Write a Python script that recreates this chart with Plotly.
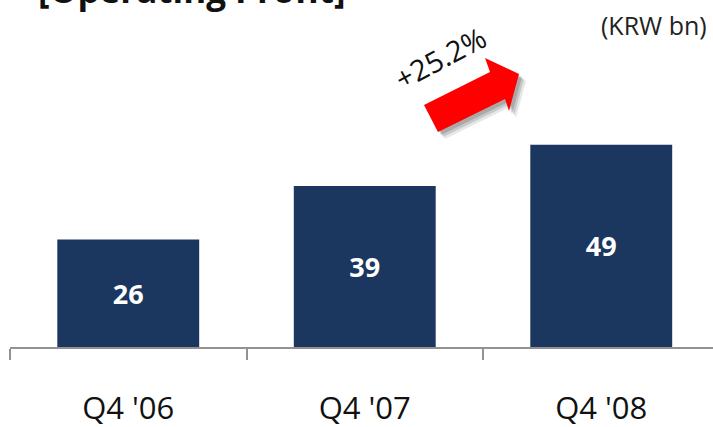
import plotly.graph_objects as go

categories = ["Q4 '06", "Q4 '07", "Q4 '08"]
values = [26, 39, 49]
value_labels = ["26", "39", "49"]
growth_label = "+25.2%"
title_text = "[Operating Profit]"
unit_text = "(KRW bn)"

W, H = 713, 427
ML, MR, MT, MB = 10, 0, 0, 80
PW, PH = W - ML - MR, H - MT - MB

def px(x):
    return (x - ML) / PW

def py(y):
    return 1 - (y - MT) / PH

def path(pts, dx=0, dy=0):
    s = "M " + " L ".join(f"{px(x+dx):.5f},{py(y+dy):.5f}" for x, y in pts) + " Z"
    return s

xs = list(range(len(categories)))

fig = go.Figure()
fig.add_trace(go.Bar(
    x=xs, y=values, width=0.6,
    marker=dict(color="#1b375f", line=dict(width=0)),
    text=value_labels, textposition="inside", insidetextanchor="middle",
    textfont=dict(family="Open Sans", size=27, color="white", weight="bold"),
    hoverinfo="skip",
))

arrow = [(424, 105), (490, 72), (485, 58), (519, 74), (509, 111), (505, 99), (438, 132)]
shapes = []
for off, op in [((7, 7), 0.12), ((5, 5), 0.18), ((3, 3), 0.22)]:
    shapes.append(dict(type="path", xref="paper", yref="paper",
                       path=path(arrow, *off), fillcolor=f"rgba(60,60,60,{op})",
                       line=dict(width=0), layer="above"))
shapes.append(dict(type="path", xref="paper", yref="paper", path=path(arrow),
                   fillcolor="#ff0000", line=dict(width=0), layer="above"))

annotations = [
    dict(text=f"<b>{title_text}</b>", xref="paper", yref="paper", x=px(36), y=1,
         xanchor="left", yanchor="bottom", yshift=-15, showarrow=False,
         font=dict(family="Open Sans", size=35, color="#111111")),
    dict(text=unit_text, xref="paper", yref="paper", x=px(709), y=py(25),
         xanchor="right", yanchor="middle", showarrow=False,
         font=dict(family="Open Sans", size=25, color="#222222")),
    dict(text=growth_label, xref="paper", yref="paper", x=px(440), y=py(57),
         xanchor="center", yanchor="middle", showarrow=False, textangle=-28,
         font=dict(family="Open Sans", size=29, color="#111111")),
]

fig.update_layout(
    width=W, height=H, margin=dict(l=ML, r=MR, t=MT, b=MB, pad=0, autoexpand=False),
    paper_bgcolor="white", plot_bgcolor="white", showlegend=False,
    bargap=0.4, shapes=shapes, annotations=annotations,
    xaxis=dict(range=[-0.5, -0.5 + PW / 236.5], tickmode="array", tickvals=xs,
               ticktext=categories, ticks="", showgrid=False, zeroline=False,
               automargin=False,
               showline=True, linecolor="#929292", linewidth=2,
               tickfont=dict(family="Open Sans", size=31, color="#111111"),
               ticklabelstandoff=33,
               minor=dict(tickmode="array", tickvals=[-0.5, 0.5, 1.5], ticks="outside",
                          ticklen=11, tickwidth=2, tickcolor="#929292", showgrid=False)),
    yaxis=dict(range=[0, PH / 4.13], visible=False, showgrid=False, zeroline=False,
               automargin=False),
)

fig.write_html("out.html")
